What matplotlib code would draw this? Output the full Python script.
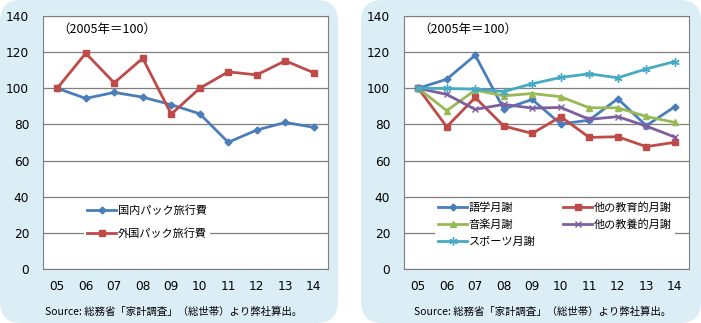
import matplotlib.pyplot as plt
from matplotlib.patches import FancyBboxPatch

plt.rcParams['font.family'] = ['Noto Sans CJK JP', 'DejaVu Sans']

# データ（2005年=100）
years = ['05', '06', '07', '08', '09', '10', '11', '12', '13', '14']

domestic = [100, 94.4, 97.7, 95.1, 90.9, 85.9, 70.1, 76.9, 81.1, 78.4]
overseas = [100, 119.4, 103.0, 116.6, 85.7, 100.0, 109.1, 107.4, 115.2, 108.6]

gogaku = [100, 105.0, 118.3, 88.5, 93.8, 80.2, 82.4, 94.2, 79.3, 89.8]
kyoiku = [100, 78.7, 94.9, 79.1, 75.0, 84.3, 72.8, 73.2, 67.7, 70.1]
ongaku = [100, 87.6, 99.0, 95.8, 97.1, 95.3, 89.2, 89.2, 84.4, 81.1]
kyoyo = [100, 96.6, 88.3, 91.1, 89.0, 89.4, 82.8, 84.3, 79.1, 73.0]
sports = [100, 99.9, 99.5, 98.2, 102.5, 106.0, 108.0, 105.8, 110.7, 114.8]

source = 'Source: 総務省「家計調査」（総世帯）より弊社算出。'

fig = plt.figure(figsize=(7.01, 3.23), dpi=100)
fig.patch.set_facecolor('white')

# 背景パネル（薄い水色、角丸）
for x0, w in [(0.0, 0.482), (0.515, 0.485)]:
    fig.patches.append(FancyBboxPatch((x0, 0.0), w, 1.0, boxstyle='round,pad=0,rounding_size=0.03',
                                      transform=fig.transFigure, facecolor='#dbeef6',
                                      edgecolor='none', zorder=-10, mutation_aspect=2.17))

ax1 = fig.add_axes([0.0613, 0.1672, 0.4066, 0.7833])
ax2 = fig.add_axes([0.5763, 0.1672, 0.4066, 0.7833])

x = range(len(years))

def style(ax):
    ax.set_ylim(0, 140)
    ax.set_xlim(-0.5, len(years) - 0.5)
    ax.set_yticks(range(0, 141, 20))
    ax.set_xticks(list(x))
    ax.set_xticklabels(years)
    ax.tick_params(length=0, labelsize=8.7, pad=8, axis='x')
    ax.tick_params(length=0, labelsize=8.7, pad=10, axis='y')
    for lab in ax.get_xticklabels() + ax.get_yticklabels():
        lab.set_family('DejaVu Sans')
    ax.grid(axis='y', color='#7f7f7f', linewidth=0.9)
    ax.set_axisbelow(True)
    for s in ax.spines.values():
        s.set_color('#7f7f7f')
    ax.set_facecolor('white')
    ax.text(0.05, 130.5, '（2005年＝100）', fontsize=9, transform=ax.get_yaxis_transform())

style(ax1)
ax1.plot(x, domestic, color='#4a7ebb', lw=2, marker='D', ms=3.5, label='国内パック旅行費')
ax1.plot(x, overseas, color='#be4b48', lw=2, marker='s', ms=5, label='外国パック旅行費')
leg1 = ax1.legend(loc='center', bbox_to_anchor=(0.365, 0.186), fontsize=8, frameon=True,
                  fancybox=False, edgecolor='none', handlelength=2.6, labelspacing=1.1,
                  borderpad=0.3, handletextpad=0.15)
leg1.get_frame().set_alpha(1)

style(ax2)
l1, = ax2.plot(x, gogaku, color='#4a7ebb', lw=2, marker='D', ms=3.5, label='語学月謝')
l2, = ax2.plot(x, kyoiku, color='#be4b48', lw=2, marker='s', ms=5, label='他の教育的月謝')
l3, = ax2.plot(x, ongaku, color='#98b954', lw=2, marker='^', ms=5, label='音楽月謝')
l4, = ax2.plot(x, kyoyo, color='#7d5fa0', lw=2, marker='x', ms=5, label='他の教養的月謝')
l5, = ax2.plot(x, sports, color='#46aac5', lw=2, marker=(6, 2, 0), ms=6, label='スポーツ月謝')
leg2 = ax2.legend(handles=[l1, l3, l5, l2, l4], loc='center', bbox_to_anchor=(0.53, 0.175),
                  ncol=2, fontsize=8, frameon=True, fancybox=False, edgecolor='none',
                  handlelength=2.6, labelspacing=0.6, borderpad=0.3, handletextpad=0.15,
                  columnspacing=2.5)
leg2.get_frame().set_alpha(1)

fig.text(0.2475, 0.025, source, ha='center', fontsize=7.5)
fig.text(0.7735, 0.025, source, ha='center', fontsize=7.5)

fig.savefig('out.png', dpi=100)
